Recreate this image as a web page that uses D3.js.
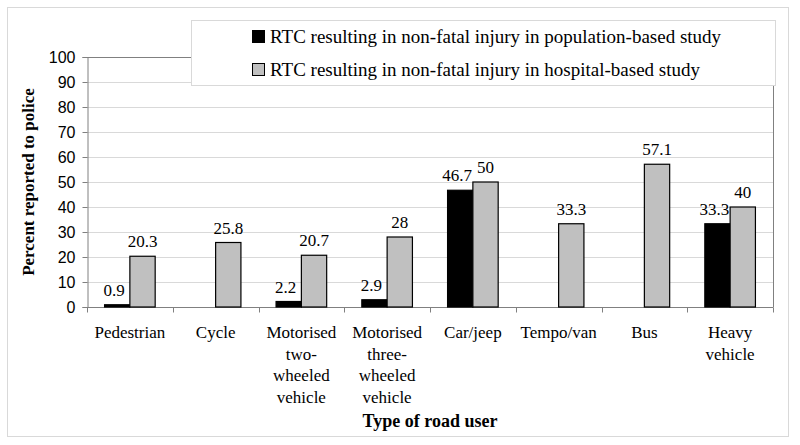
<!DOCTYPE html>
<html><head><meta charset="utf-8">
<script src="https://cdn.jsdelivr.net/npm/d3@7"></script>
<style>body{margin:0;background:#fff}</style>
</head><body>
<script>
const categories = [["Pedestrian"],["Cycle"],["Motorised","two-","wheeled","vehicle"],["Motorised","three-","wheeled","vehicle"],["Car/jeep"],["Tempo/van"],["Bus"],["Heavy","vehicle"]];
const populationValues = [0.9, null, 2.2, 2.9, 46.7, null, null, 33.3];
const hospitalValues = [20.3, 25.8, 20.7, 28, 50, 33.3, 57.1, 40];
const yTicks = [0,10,20,30,40,50,60,70,80,90,100];
const seriesNames = ["RTC resulting in non-fatal injury in population-based study","RTC resulting in non-fatal injury in hospital-based study"];
const seriesColors = ["#000000","#c0c0c0"];

const SERIF="'Liberation Serif', 'Times New Roman', serif";
const W=800,H=445;
const svg=d3.select("body").append("svg").attr("width",W).attr("height",H);
svg.append("rect").attr("x",7.5).attr("y",7.5).attr("width",781).attr("height",429).attr("fill","#fff").attr("stroke","#d9d9d9");

const L=87,R=773,T=57,B=307;
const x=d3.scaleBand().domain(d3.range(categories.length)).range([L,R]).paddingInner(0).paddingOuter(0);
const y=d3.scaleLinear().domain([0,100]).range([B,T]);
const bw=25.3;

// gridlines
svg.append("g").selectAll("line").data(yTicks.filter(d=>d>0)).join("line")
 .attr("x1",L).attr("x2",R).attr("y1",d=>y(d)+0.5).attr("y2",d=>y(d)+0.5).attr("stroke","#d9d9d9");
// plot border
svg.append("path").attr("d",`M${L+0.5},${T+0.5}H${R+0.5}V${B}`).attr("fill","none").attr("stroke","#808080");

// y axis
const ya=svg.append("g").attr("transform",`translate(${L+0.5},0)`)
 .call(d3.axisLeft(y).tickValues(yTicks).tickSize(5).tickPadding(7));
ya.select(".domain").attr("stroke","#808080");
ya.selectAll(".tick line").attr("stroke","#808080");
ya.selectAll("text").attr("font-family","'Liberation Sans', Arial, sans-serif").attr("font-size",16).attr("fill","#000");

// x axis
const xa=svg.append("g").attr("transform",`translate(0,${B+0.5})`);
xa.append("line").attr("x1",L).attr("x2",R+0.5).attr("stroke","#808080");
xa.selectAll("line.t").data(d3.range(categories.length+1)).join("line").attr("class","t")
 .attr("x1",i=>Math.round(L+i*x.step())+0.5).attr("x2",i=>Math.round(L+i*x.step())+0.5).attr("y1",0).attr("y2",5).attr("stroke","#808080");
categories.forEach((lines,i)=>{
  const t=svg.append("text").attr("x",x(i)+x.bandwidth()/2).attr("y",338)
   .attr("text-anchor","middle").attr("font-family",SERIF).attr("font-size",17);
  lines.forEach((ln,j)=>t.append("tspan").attr("x",x(i)+x.bandwidth()/2).attr("dy",j?21.7:0).text(ln));
});

// bars
const series=[populationValues,hospitalValues];
series.forEach((vals,s)=>{
  const g=svg.append("g");
  vals.forEach((v,i)=>{
    if(v==null) return;
    const cx=x(i)+x.bandwidth()/2;
    const bx=cx-bw+s*bw;
    g.append("rect").attr("x",bx).attr("y",y(v)).attr("width",bw).attr("height",B-y(v))
     .attr("fill",seriesColors[s]).attr("stroke","#000").attr("stroke-width",1.2);
    g.append("text").attr("x",bx+bw/2-(s===0?3:0)).attr("y",y(v)-9)
     .attr("text-anchor","middle").attr("font-family",SERIF).attr("font-size",17).text(v);
  });
});

// axis titles
svg.append("text").attr("transform",`translate(34,${(T+B)/2}) rotate(-90)`).attr("text-anchor","middle")
 .attr("font-family",SERIF).attr("font-weight","bold").attr("font-size",17).text("Percent reported to police");
svg.append("text").attr("x",(L+R)/2).attr("y",427).attr("text-anchor","middle")
 .attr("font-family",SERIF).attr("font-weight","bold").attr("font-size",18).text("Type of road user");

// legend
const lg=svg.append("g");
lg.append("rect").attr("x",191.5).attr("y",20.5).attr("width",584).attr("height",65).attr("fill","#fff").attr("stroke","#d9d9d9");
seriesNames.forEach((n,i)=>{
  const cy=37+i*33;
  lg.append("rect").attr("x",252.5).attr("y",cy-6.5).attr("width",12).attr("height",12).attr("fill",seriesColors[i]).attr("stroke","#000");
  lg.append("text").attr("x",270).attr("y",cy+6).attr("font-family",SERIF).attr("font-size",19).text(n);
});
</script>
</body></html>
